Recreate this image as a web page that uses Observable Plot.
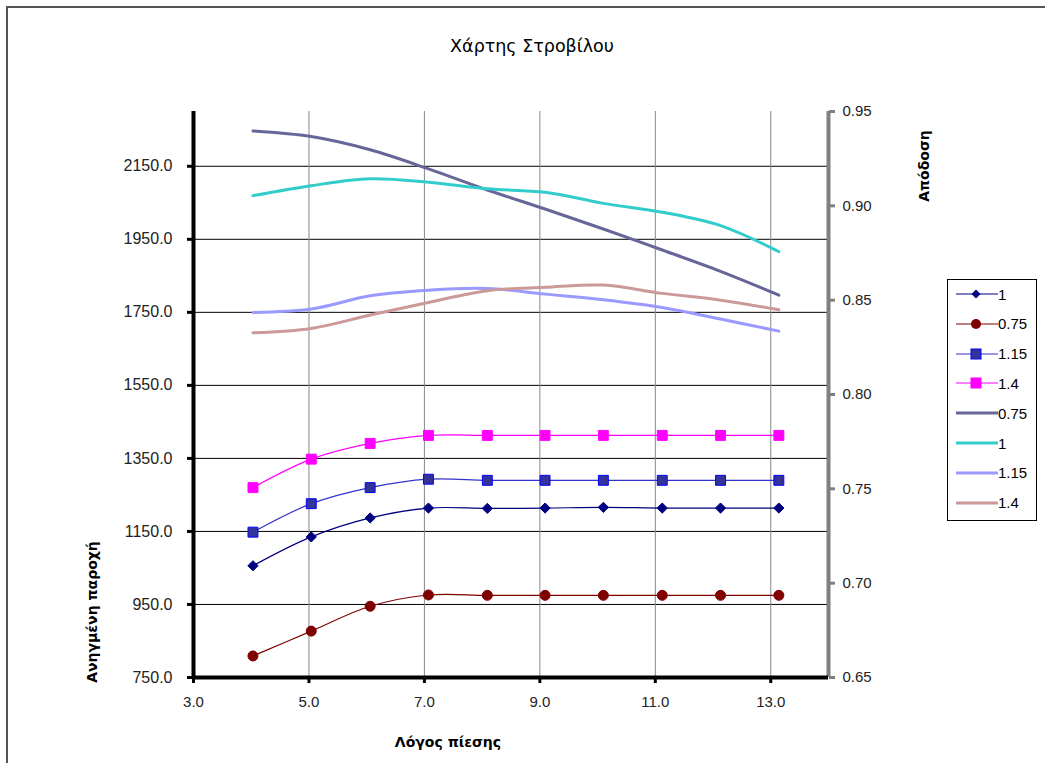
<!DOCTYPE html>
<html>
<head>
<meta charset="utf-8">
<script src="https://cdn.jsdelivr.net/npm/d3@7"></script>
<script src="https://cdn.jsdelivr.net/npm/@observablehq/plot@0.6"></script>
<style>
  body { margin: 0; background: #fff; }
  #wrap { position: relative; width: 1045px; height: 763px; overflow: hidden; background: #fff; }
  #frame { position: absolute; left: 6px; top: 6px; width: 1100px; height: 800px; border-left: 2px solid #555; border-top: 2px solid #555; pointer-events: none; }
  .lbl { position: absolute; white-space: nowrap; color: #000; }
  #title { left: 382px; width: 300px; top: 36px; text-align: center; font: 17.5px "DejaVu Sans", sans-serif; }
  #xlab { left: 348px; width: 200px; top: 734px; text-align: center; font: bold 14px "DejaVu Sans", sans-serif; }
  .rot { transform: translate(-50%, -50%) rotate(-90deg); font: bold 14px "DejaVu Sans", sans-serif; }
  #legend { position: absolute; left: 947px; top: 279px; width: 90px; height: 242px; border: 1px solid #000; background: #fff; box-sizing: border-box; }
  .li { position: absolute; left: 8px; height: 20px; display: flex; align-items: center; font: 15px "Liberation Sans", Arial, sans-serif; color: #000; }
  .li svg { display: block; }
</style>
</head>
<body>
<div id="wrap">
  <div id="chart"></div>
  <div id="frame"></div>
  <div class="lbl" id="title">Χάρτης Στροβίλου</div>
  <div class="lbl" id="xlab">Λόγος πίεσης</div>
  <div class="lbl rot" style="left:92px; top:612px;">Ανηγμένη παροχή</div>
  <div class="lbl rot" style="left:924px; top:166px;">Απόδοση</div>
  <div id="legend"></div>
</div>
<script>
// ---- data ----
const pressureRatio = [4.03, 5.04, 6.06, 7.07, 8.09, 9.09, 10.10, 11.12, 12.13, 13.14];
// reduced mass flow (left axis)
const flow075 = [809, 877, 945, 976, 975, 975, 975, 975, 975, 975];
const flow100 = [1056, 1135, 1187, 1214, 1213, 1214, 1216, 1214, 1214, 1214];
const flow115 = [1148, 1226, 1270, 1293, 1290, 1290, 1290, 1290, 1290, 1290];
const flow140 = [1270, 1348, 1391, 1413, 1413, 1413, 1413, 1413, 1413, 1413];
// efficiency (right axis)
const eff075 = [0.9397, 0.9367, 0.9297, 0.9196, 0.9084, 0.8983, 0.8877, 0.8766, 0.8653, 0.8527];
const eff100 = [0.9054, 0.9107, 0.9143, 0.9125, 0.9090, 0.9072, 0.9013, 0.8966, 0.8895, 0.8757];
const eff115 = [0.8435, 0.8453, 0.8523, 0.8553, 0.8562, 0.8532, 0.8502, 0.8461, 0.8400, 0.8336];
const eff140 = [0.8327, 0.8350, 0.8421, 0.8488, 0.8550, 0.8568, 0.8580, 0.8536, 0.8500, 0.8449];

const xTicks = [3, 5, 7, 9, 11, 13];
const leftTicks = [750, 950, 1150, 1350, 1550, 1750, 1950, 2150];
const rightTicks = [0.65, 0.70, 0.75, 0.80, 0.85, 0.90, 0.95];
const xDomain = [3, 14];
const leftDomain = [750, 2300];
const rightDomain = [0.65, 0.95];

// map right-axis values onto the left scale
const toLeft = v => leftDomain[0] + (v - rightDomain[0]) / (rightDomain[1] - rightDomain[0]) * (leftDomain[1] - leftDomain[0]);
const fromLeft = y => rightDomain[0] + (y - leftDomain[0]) / (leftDomain[1] - leftDomain[0]) * (rightDomain[1] - rightDomain[0]);

const markerSeries = [
  {name: "1",    vals: flow100, color: "#000080", fill: "#000080", symbol: "diamond2", r: 4.6},
  {name: "0.75", vals: flow075, color: "#800000", fill: "#800000", symbol: "circle",   r: 5},
  {name: "1.15", vals: flow115, color: "#3333cc", fill: "#333399", symbol: "square",   r: 5.6, stroke: "#0000ff"},
  {name: "1.4",  vals: flow140, color: "#ff00ff", fill: "#ff00ff", symbol: "square",   r: 5.6}
];
const lineSeries = [
  {name: "0.75", vals: eff075, color: "#666699"},
  {name: "1",    vals: eff100, color: "#33cccc"},
  {name: "1.15", vals: eff115, color: "#9999ff"},
  {name: "1.4",  vals: eff140, color: "#cc9999"}
];

const toRows = s => pressureRatio.map((x, i) => ({x, y: s.vals[i]}));
const toRowsR = s => pressureRatio.map((x, i) => ({x, y: toLeft(s.vals[i])}));

const marks = [
  Plot.ruleY(leftTicks.slice(1), {stroke: "#000", strokeWidth: 1}),
  Plot.ruleX(xTicks.slice(1), {stroke: "#888", strokeWidth: 1}),
];
for (const s of lineSeries) {
  marks.push(Plot.line(toRowsR(s), {x: "x", y: "y", stroke: s.color, strokeWidth: 3, curve: "catmull-rom"}));
}
for (const s of markerSeries) {
  marks.push(Plot.line(toRows(s), {x: "x", y: "y", stroke: s.color, strokeWidth: 1.2, curve: "catmull-rom"}));
}
for (const s of markerSeries) {
  marks.push(Plot.dot(toRows(s), {x: "x", y: "y", symbol: s.symbol, r: s.r, fill: s.fill, stroke: s.stroke || s.fill, strokeWidth: 1}));
}
marks.push(
  Plot.ruleX([xDomain[1]], {stroke: "#808080", strokeWidth: 4}),
  Plot.ruleX([xDomain[0]], {stroke: "#000", strokeWidth: 4}),
  Plot.ruleY([leftDomain[0]], {stroke: "#000", strokeWidth: 4}),
  Plot.axisX({ticks: xTicks, tickFormat: d => d.toFixed(1), tickSize: 6, tickPadding: 13, strokeWidth: 3, fill: "#222", label: null}),
  Plot.axisY({anchor: "left", ticks: leftTicks, tickFormat: d => d.toFixed(1), tickSize: 6, tickPadding: 15, strokeWidth: 3, fill: "#222", label: null, fontSize: 16}),
  Plot.axisY({anchor: "right", ticks: rightTicks.map(toLeft), tickFormat: d => fromLeft(d).toFixed(2), tickSize: 6, tickPadding: 8, strokeWidth: 3, stroke: "#808080", fill: "#222", label: null})
);

const chart = Plot.plot({
  width: 1045,
  height: 763,
  marginLeft: 193,
  marginRight: 217,
  marginTop: 111,
  marginBottom: 86,
  x: {domain: xDomain},
  y: {domain: leftDomain},
  style: {fontFamily: '"Liberation Sans", Arial, sans-serif', fontSize: "15px", background: "transparent", color: "#000"},
  marks
});
document.getElementById("chart").appendChild(chart);

// legend
const legend = document.getElementById("legend");
const items = [
  ...markerSeries.map(s => ({...s, marker: true})),
  ...lineSeries.map(s => ({...s, marker: false}))
];
items.forEach((s, i) => {
  const div = document.createElement("div");
  div.className = "li";
  div.style.top = (4 + i * 29.8) + "px";
  let mk = "";
  if (s.marker) {
    if (s.symbol === "circle") mk = `<circle cx="20" cy="10" r="5" fill="${s.fill}"/>`;
    else if (s.symbol === "diamond2") mk = `<path d="M20 5.5L24.5 10L20 14.5L15.5 10Z" fill="${s.fill}"/>`;
    else mk = `<rect x="15" y="5" width="10" height="10" fill="${s.fill}" stroke="${s.stroke || s.fill}"/>`;
  }
  const sw = s.marker ? 1.2 : 3;
  div.innerHTML = `<svg width="42" height="20"><line x1="0" x2="42" y1="10" y2="10" stroke="${s.color}" stroke-width="${sw}"/>${mk}</svg><span style="margin-left:0px">${s.name}</span>`;
  legend.appendChild(div);
});
</script>
</body>
</html>
